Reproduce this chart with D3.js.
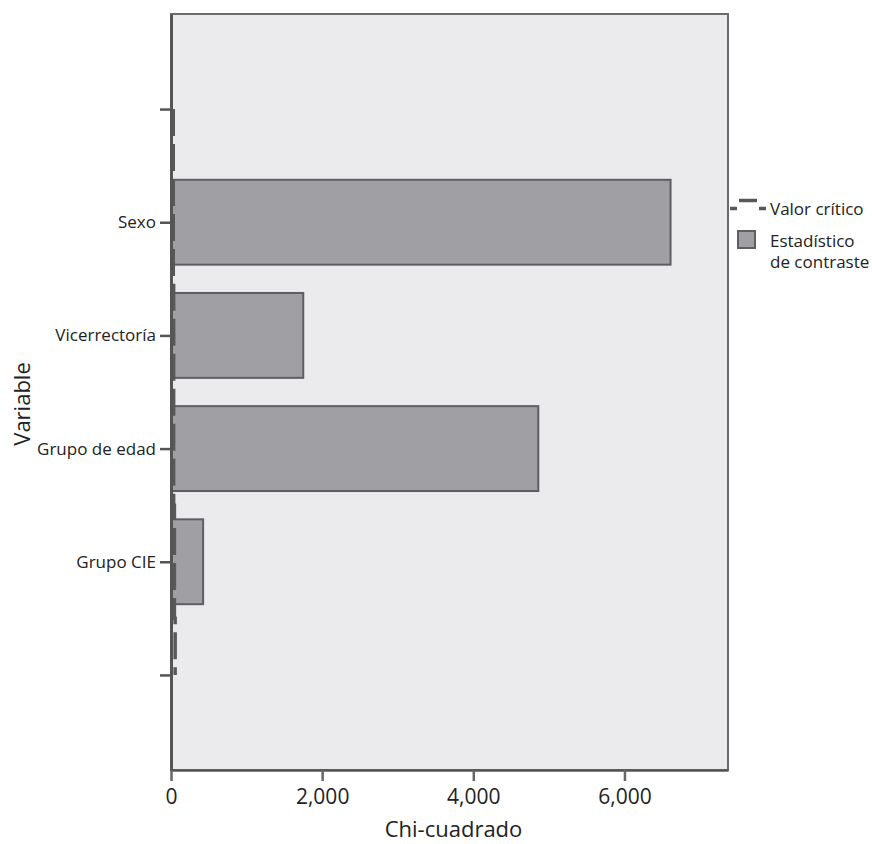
<!DOCTYPE html>
<html>
<head>
<meta charset="utf-8">
<script src="https://cdn.jsdelivr.net/npm/d3@7"></script>
<style>
  body { margin: 0; background: #fff; }
  text { font-family: "Open Sans", sans-serif; fill: #222; }
</style>
</head>
<body>
<div id="chart"></div>
<script>
// data
var categories = ["Sexo", "Vicerrectoría", "Grupo de edad", "Grupo CIE"];
var statValues = [6610, 1750, 4860, 425];
// critical value line runs over the two empty slots too (top, 4 variables, bottom)
var slots = ["top", "Sexo", "Vicerrectoría", "Grupo de edad", "Grupo CIE", "bottom"];
var criticalValues = [30, 30, 35, 35, 45, 55];
var xTicks = [0, 2000, 4000, 6000];
var xMax = 7370;

var svgWidth = 872, svgHeight = 844;
var frame = {left: 171, right: 728, top: 14, bottom: 770};

var svg = d3.select("#chart").append("svg")
    .attr("width", svgWidth)
    .attr("height", svgHeight);

var x = d3.scaleLinear().domain([0, xMax]).range([frame.left, frame.right]);
var y = d3.scalePoint().domain(slots).range([frame.top, frame.bottom]).padding(0.84);
var barH = y.step() * 0.75;

// plot area
svg.append("rect")
    .attr("x", frame.left).attr("y", frame.top)
    .attr("width", frame.right - frame.left).attr("height", frame.bottom - frame.top)
    .style("fill", "#ebebed").style("stroke", "#6b6b6f").style("stroke-width", 2);

// bars
var data = categories.map(function(c, i){ return {name: c, value: statValues[i]}; });
svg.append("g").selectAll("rect")
    .data(data)
    .enter()
    .append("rect")
    .attr("x", x(0))
    .attr("y", function(d){ return y(d.name) - barH / 2; })
    .attr("width", function(d){ return x(d.value) - x(0); })
    .attr("height", barH)
    .style("fill", "#a0a0a4")
    .style("stroke", "#5f5f63")
    .style("stroke-width", 2);

// critical value (dashed step line)
var pts = [];
slots.forEach(function(s, i){
    var y0 = i == 0 ? y(s) : y(s) - y.step() / 2;
    var y1 = i == slots.length - 1 ? y(s) : y(s) + y.step() / 2;
    pts.push([x(criticalValues[i]), y0]);
    pts.push([x(criticalValues[i]), y1]);
});
svg.append("path")
    .attr("d", d3.line()(pts))
    .style("fill", "none")
    .style("stroke", "#58585c")
    .style("stroke-width", 3.5)
    .style("stroke-dasharray", "27,8");

// x axis
var xAxis = svg.append("g")
    .attr("transform", "translate(0," + frame.bottom + ")")
    .call(d3.axisBottom(x).tickValues(xTicks).tickSize(11).tickSizeOuter(0).tickPadding(8)
        .tickFormat(d3.format(",")));
xAxis.select(".domain").style("stroke", "#555").style("stroke-width", 2.5);
xAxis.selectAll(".tick line").style("stroke", "#666").style("stroke-width", 2.5);
xAxis.selectAll("text").style("font-size", "21px").style("font-family", "Open Sans, sans-serif").style("fill", "#222");

// y axis
var yAxis = svg.append("g")
    .attr("transform", "translate(" + frame.left + ",0)")
    .call(d3.axisLeft(y).tickSize(11).tickSizeOuter(0).tickPadding(4)
        .tickFormat(function(d){ return categories.indexOf(d) >= 0 ? d : ""; }));
yAxis.select(".domain").style("stroke", "#555").style("stroke-width", 3);
yAxis.selectAll(".tick line").style("stroke", "#555").style("stroke-width", 2.5);
yAxis.selectAll("text").style("font-size", "17px").style("font-family", "Open Sans, sans-serif").style("fill", "#222");

// axis titles
svg.append("text")
    .attr("x", (frame.left + frame.right) / 2 + 4)
    .attr("y", 837)
    .attr("text-anchor", "middle")
    .style("font-size", "22px")
    .text("Chi-cuadrado");
svg.append("text")
    .attr("transform", "translate(30,404) rotate(-90)")
    .attr("text-anchor", "middle")
    .style("font-size", "22px")
    .text("Variable");

// legend
var legend = svg.append("g");
legend.append("path")
    .attr("d", "M730,208.5H737M739,200.5H757M759,208.5H766")
    .style("stroke", "#58585c").style("stroke-width", 3.5).style("fill", "none");
legend.append("text").attr("x", 770).attr("y", 215).style("font-size", "17px").text("Valor crítico");
legend.append("rect")
    .attr("x", 738).attr("y", 231).attr("width", 17).attr("height", 17)
    .style("fill", "#a0a0a4").style("stroke", "#5f5f63").style("stroke-width", 2);
legend.append("text").attr("x", 770).attr("y", 247).style("font-size", "17px").text("Estadístico");
legend.append("text").attr("x", 770).attr("y", 268).style("font-size", "17px").text("de contraste");
</script>
</body>
</html>
